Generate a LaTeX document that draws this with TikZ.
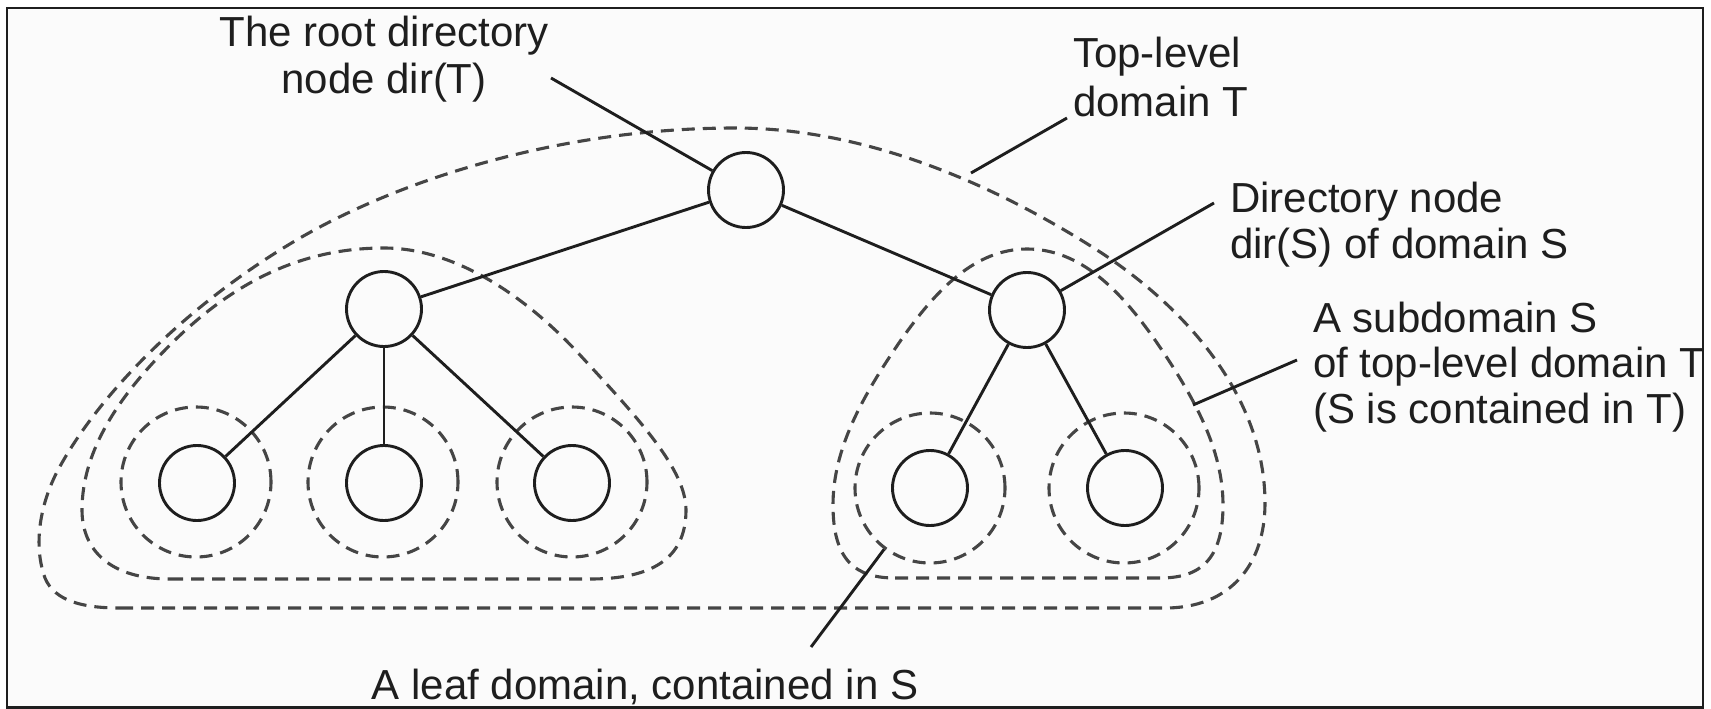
\documentclass[tikz,border=0pt]{standalone}
\usepackage{fontspec}
\setmainfont{Liberation Sans}
\definecolor{ink}{HTML}{1E1E1E}
\definecolor{dashc}{HTML}{454545}
\definecolor{paper}{HTML}{FBFBFB}
\begin{document}
\begin{tikzpicture}[x=1pt,y=-1pt,
  treenode/.style={draw=ink, line width=2.9pt, circle, minimum size=75pt, inner sep=0pt},
  leafdom/.style={draw=dashc, line width=3.1pt, dash pattern=on 13pt off 8pt, circle, minimum size=150pt, inner sep=0pt},
  domline/.style={draw=dashc, line width=3.1pt, dash pattern=on 13pt off 8pt},
  link/.style={draw=ink, line width=2.9pt},
  lbl/.style={inner sep=0pt, font=\fontsize{42}{46}\selectfont, text=ink}]
\useasboundingbox (0,0) rectangle (1711,709);
\fill[paper] (7,8) rectangle (1703,708);

% top-level domain T
\draw[domline] (120,608) -- (1165,608)
  .. controls (1230,608) and (1265,565) .. (1265,503)
  .. controls (1265,400) and (1190,310) .. (1097,250)
  .. controls (1000,188) and (870,128) .. (735,128)
  .. controls (560,128) and (400,180) .. (300,238)
  .. controls (190,302) and (100,392) .. (58,470)
  .. controls (40,504) and (33,545) .. (45,578)
  .. controls (55,602) and (85,608) .. (120,608) -- cycle;

% left subdomain
\draw[domline] (170,579) -- (590,579)
  .. controls (650,579) and (686,560) .. (686,510)
  .. controls (686,470) and (640,420) .. (580,355)
  .. controls (520,290) and (450,248) .. (384,248)
  .. controls (310,248) and (240,275) .. (170,345)
  .. controls (120,395) and (82,450) .. (82,510)
  .. controls (82,550) and (110,579) .. (170,579) -- cycle;

% subdomain S
\draw[domline] (895,578) -- (1160,578)
  .. controls (1200,578) and (1223,560) .. (1223,505)
  .. controls (1223,450) and (1195,398) .. (1155,340)
  .. controls (1120,290) and (1080,249) .. (1027,249)
  .. controls (975,249) and (936,290) .. (901,340)
  .. controls (861,398) and (833,450) .. (833,505)
  .. controls (833,560) and (855,578) .. (895,578) -- cycle;

% leaf domains
\node[leafdom] (ld1) at (196,482) {};
\node[leafdom] (ld2) at (383,482) {};
\node[leafdom] (ld3) at (572,482) {};
\node[leafdom] (rd1) at (930,488) {};
\node[leafdom] (rd2) at (1124,488) {};

% directory nodes
\node[treenode] (root) at (746,190) {};
\node[treenode] (dT) at (384,309) {};
\node[treenode] (dS) at (1027,310) {};
\node[treenode] (l1) at (197,483) {};
\node[treenode] (l2) at (384,483) {};
\node[treenode] (l3) at (572,483) {};
\node[treenode] (r1) at (930,488) {};
\node[treenode] (r2) at (1125,488) {};

\draw[link] (root) -- (dT);
\draw[link] (root) -- (dS);
\draw[link] (dT) -- (l1);
\draw[link] (dT) -- (l2);
\draw[link] (dT) -- (l3);
\draw[link] (dS) -- (r1);
\draw[link] (dS) -- (r2);

% labels
\begin{scope}
\clip (7,8) rectangle (1703,708);
\node[lbl, anchor=base] (rootA) at (384,47) {The root directory};
\node[lbl, anchor=base] (rootB) at (384,93) {node dir(T)};
\node[lbl, anchor=base west] (topA) at (1073,68) {Top-level};
\node[lbl, anchor=base west] (topB) at (1073,117) {domain T};
\node[lbl, anchor=base west] (dirA) at (1230,212) {Directory node};
\node[lbl, anchor=base west] (dirB) at (1230,258) {dir(S) of domain S};
\node[lbl, anchor=base west] (subA) at (1313,332) {A subdomain S};
\node[lbl, anchor=base west] (subB) at (1313,377) {of top-level domain T};
\node[lbl, anchor=base west] (subC) at (1313,423) {(S is contained in T)};
\node[lbl, anchor=base] (leafT) at (645,699) {A leaf domain, contained in S};
\end{scope}

% leader lines
\coordinate (rootEnd) at (551,78);
\coordinate (topEnd) at (1067,118);
\coordinate (topHit) at (971,173);
\coordinate (dirEnd) at (1214,203);
\coordinate (subEnd) at (1297,360);
\coordinate (subHit) at (1193,405);
\coordinate (leafEnd) at (811,647);
\draw[link] (root) -- (rootEnd);
\draw[link] (topEnd) -- (topHit);
\draw[link] (dS) -- (dirEnd);
\draw[link] (subEnd) -- (subHit);
\draw[link] (rd1) -- (leafEnd);

% frame
\draw[draw=ink, line width=2.5pt] (7,8) rectangle (1703,707.5);
\end{tikzpicture}
\end{document}
